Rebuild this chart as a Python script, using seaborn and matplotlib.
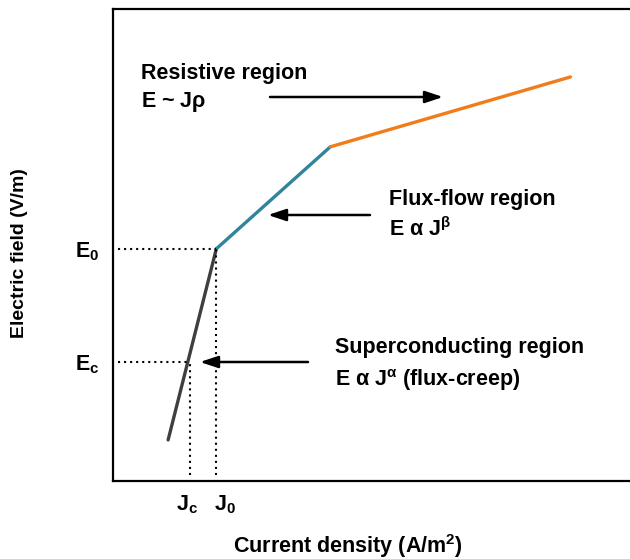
import matplotlib
matplotlib.use("Agg")
import matplotlib.pyplot as plt
import seaborn as sns
import pandas as pd
from matplotlib.transforms import ScaledTranslation

sns.set_theme(style="white")
plt.rcParams["font.family"] = ["Liberation Sans", "DejaVu Sans"]
plt.rcParams["mathtext.fontset"] = "custom"
plt.rcParams["mathtext.rm"] = "Liberation Sans:weight=bold"
plt.rcParams["mathtext.bf"] = "Liberation Sans:weight=bold"
plt.rcParams["mathtext.it"] = "Liberation Sans:weight=bold"
plt.rcParams["mathtext.default"] = "bf"

# Data (arbitrary units)
segments = ["superconducting", "superconducting", "flux-flow", "flux-flow", "resistive", "resistive"]
J_vals = [1.04, 1.95, 1.95, 4.10, 4.10, 8.63]
E_vals = [0.87, 4.92, 4.92, 7.08, 7.08, 8.56]
seg_colors = {"superconducting": "#3f3f3f", "flux-flow": "#31849b", "resistive": "#f07c1a"}

J_c, J_0 = 1.46, 1.95
E_c, E_0 = 2.52, 4.92
x_ticks = [J_c, J_0]
x_labels = [r"$\mathbf{J_c}$", r"$\mathbf{J_0}$"]
y_ticks = [E_c, E_0]
y_labels = [r"$\mathbf{E_c}$", r"$\mathbf{E_0}$"]

df = pd.DataFrame({"J": J_vals, "E": E_vals, "segment": segments})

fig = plt.figure(figsize=(6.30, 5.59), dpi=100)
ax = fig.add_axes([113 / 630, 1 - 481 / 559, 530 / 630, 472 / 559])

sns.lineplot(data=df, x="J", y="E", hue="segment", palette=seg_colors,
             linewidth=2.4, legend=False, ax=ax, sort=False, estimator=None)

ax.set_xlim(0, 10)
ax.set_ylim(0, 10)

# dotted guide lines
dot = dict(color="black", linestyle=(0, (1, 1.9)), linewidth=1.5)
ax.plot([0.1, J_0], [E_0, E_0], **dot)
ax.plot([0.1, J_c], [E_c, E_c], **dot)
ax.plot([J_0, J_0], [0.13, E_0], **dot)
ax.plot([J_c, J_c], [0.13, E_c], **dot)

FS = 15.5
ax.set_xticks(x_ticks)
ax.set_xticklabels(x_labels, fontsize=FS, color="black")
ax.set_yticks(y_ticks)
ax.set_yticklabels(y_labels, fontsize=FS, color="black")
ax.tick_params(axis="x", length=0, pad=9)
ax.tick_params(axis="y", length=0, pad=10)
# nudge tick labels to match reference placement
xt = ax.get_xticklabels()
xt[0].set_transform(xt[0].get_transform() + ScaledTranslation(-3 / 100, 0, fig.dpi_scale_trans))
xt[1].set_transform(xt[1].get_transform() + ScaledTranslation(9 / 100, 0, fig.dpi_scale_trans))

for s in ["left", "top", "bottom"]:
    ax.spines[s].set_color("black")
    ax.spines[s].set_linewidth(1.6)
ax.spines["right"].set_visible(False)

ax.set_xlabel(r"Current density (A/$\mathbf{m^2}$)", fontsize=FS, fontweight="bold", color="black")
ax.set_ylabel("Electric field (V/m)", fontsize=14, fontweight="bold", color="black")
ax.xaxis.label.set_va("center")
ax.yaxis.label.set_va("center")
ax.xaxis.set_label_coords((348 - 113) / 530, -(546 - 481) / 472)
ax.yaxis.set_label_coords(-(113 - 20) / 530, (481 - 253) / 472)

def px(x, y):
    return ((x - 113) / 53.0, (481 - y) / 47.2)

tkw = dict(fontsize=FS, fontweight="bold", color="black", va="center", ha="left")
ax.text(*px(141, 73), "Resistive region", **tkw)
ax.text(*px(141, 102), r"E ~ J$\mathbf{ρ}$", **tkw)
ax.text(*px(389, 200), "Flux-flow region", **tkw)
ax.text(*px(389, 229), r"E α $\mathbf{J^{β}}$", **tkw)
ax.text(*px(335, 348), "Superconducting region", **tkw)
ax.text(*px(335, 380), r"E α $\mathbf{J^{α}}$ (flux-creep)", **tkw)

akw = dict(arrowstyle="-|>,head_length=0.9,head_width=0.3", color="black", lw=1.8,
           shrinkA=0, shrinkB=0)
ax.annotate("", xy=px(443, 97), xytext=px(270, 97), arrowprops=akw)
ax.annotate("", xy=px(268, 215), xytext=px(370, 215), arrowprops=akw)
ax.annotate("", xy=px(200, 362), xytext=px(308, 362), arrowprops=akw)

fig.savefig("out.png", dpi=100)
